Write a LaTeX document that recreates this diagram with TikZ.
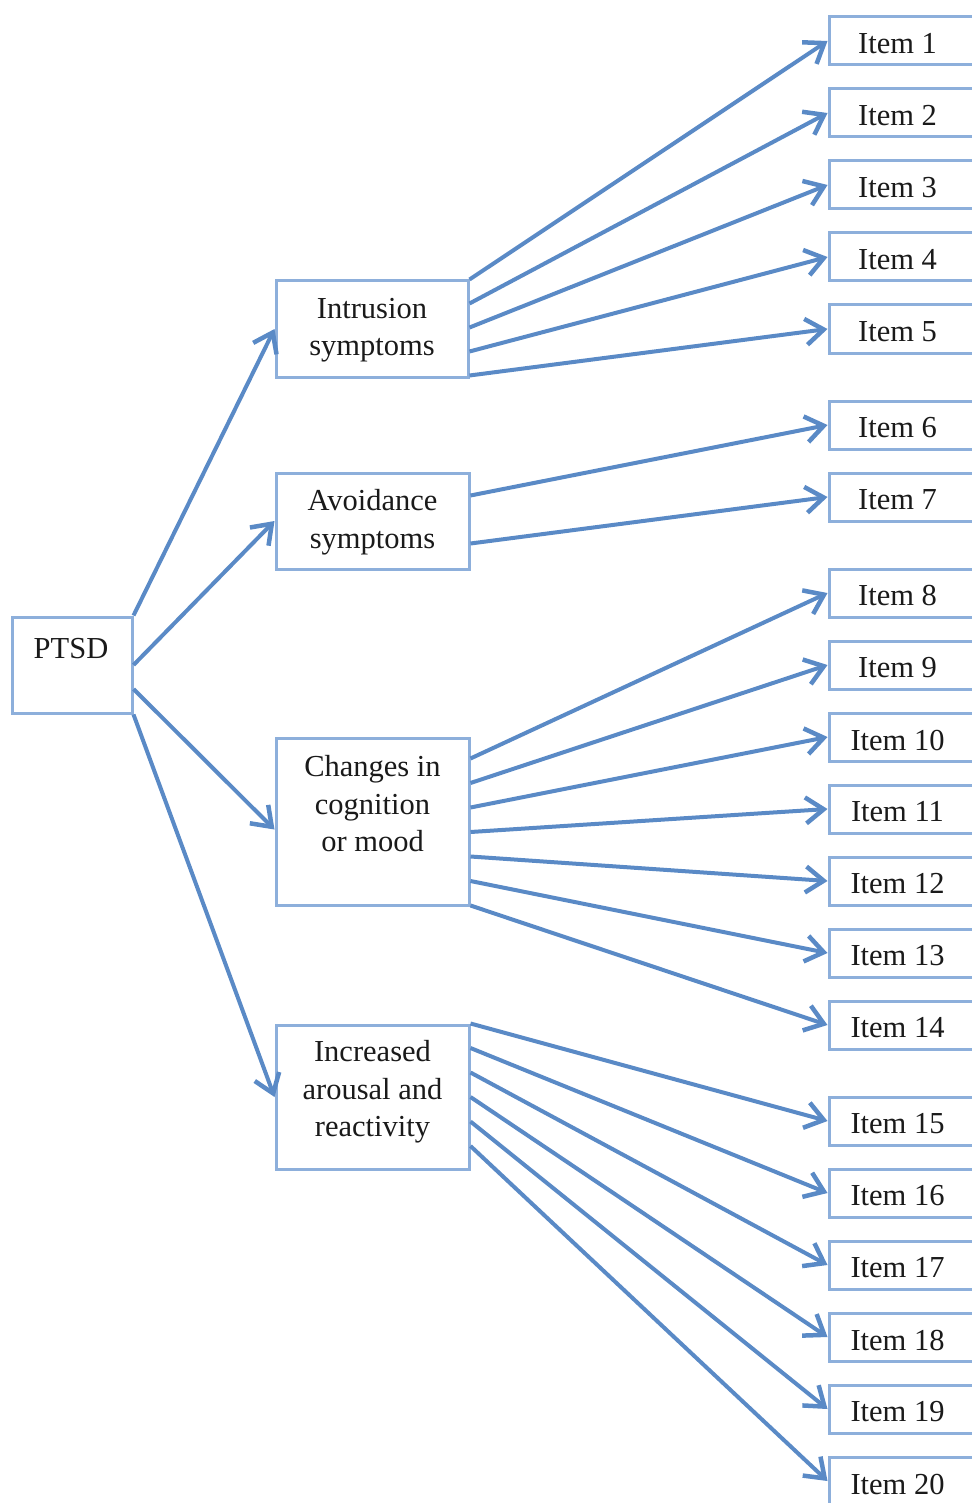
\documentclass[tikz,border=0pt]{standalone}
\usepackage{fontspec}
\setmainfont{Liberation Serif}
\usetikzlibrary{arrows.meta,calc}
\definecolor{arr}{HTML}{5A8AC6}
\definecolor{boxc}{HTML}{8DAFDB}
\definecolor{ink}{HTML}{1A1A1A}
\begin{document}
\begin{tikzpicture}[x=1pt,y=-1pt,
  box/.style={draw=boxc, line width=3pt, inner sep=0pt, rectangle, fill=white},
  txt/.style={font=\fontsize{30.5}{37.5}\selectfont, text=ink, align=center, inner sep=0pt},
  conn/.style={draw=arr, line width=4pt, -{Straight Barb[length=18pt,width=26pt,line width=4.5pt]}}]
\useasboundingbox (0,0) rectangle (971,1503);
% main boxes
\node[box, minimum width=120pt, minimum height=96pt] (ptsd) at (72,665) {};
\node[txt] (ptsdt) at (71,649) {PTSD};
\node[box, minimum width=192pt, minimum height=96pt] (intr) at (372,329) {};
\node[txt] (intrt) at (372,330) {Intrusion\\symptoms};
\node[box, minimum width=193pt, minimum height=96pt] (avoid) at (372.5,521) {};
\node[txt] (avoidt) at (372.5,522) {Avoidance\\symptoms};
\node[box, minimum width=193pt, minimum height=167pt] (chg) at (372.5,821.5) {};
\node[txt] (chgt) at (372.5,804) {Changes in\\cognition\\or mood};
\node[box, minimum width=193pt, minimum height=144pt] (incr) at (372.5,1097) {};
\node[txt] (incrt) at (372.5,1092) {Increased\\arousal and\\reactivity};
% item boxes
\foreach \i/\y in {1/41,2/113,3/185,4/257,5/329,6/425,7/497,8/593,9/665,10/737,11/809,12/881,13/953,14/1025,15/1121,16/1193,17/1265,18/1337,19/1409,20/1481}{
  \node[box, minimum width=160pt, minimum height=48pt] (it\i) at (909,\y) {};
  \node[txt] (itt\i) at ($(it\i.west)+(70,3)$) {Item \i};
}
% PTSD connectors
\draw[conn] (ptsd.north east) -- (intr.west);
\draw[conn] (ptsd.east) -- (avoid.west);
\draw[conn] ($(ptsd.east)+(0,24)$) -- ($(chg.west)+(0,8)$);
\draw[conn] (ptsd.south east) -- (incr.west);
% intrusion
\foreach \k/\i in {0/1,1/2,2/3,3/4,4/5}{
  \draw[conn] ($(intr.north east)+(0,24*\k)$) -- (it\i.west);
}
% avoidance
\draw[conn] ($(avoid.north east)+(0,24)$) -- (it6.west);
\draw[conn] ($(avoid.north east)+(0,72)$) -- (it7.west);
% changes
\foreach \k/\i in {0/8,1/9,2/10,3/11,4/12,5/13,6/14}{
  \draw[conn] ($(chg.north east)+(0,22+24.5*\k)$) -- (it\i.west);
}
% increased
\foreach \k/\i in {0/15,1/16,2/17,3/18,4/19,5/20}{
  \draw[conn] ($(incr.north east)+(0,24.5*\k)$) -- (it\i.west);
}
\end{tikzpicture}
\end{document}
